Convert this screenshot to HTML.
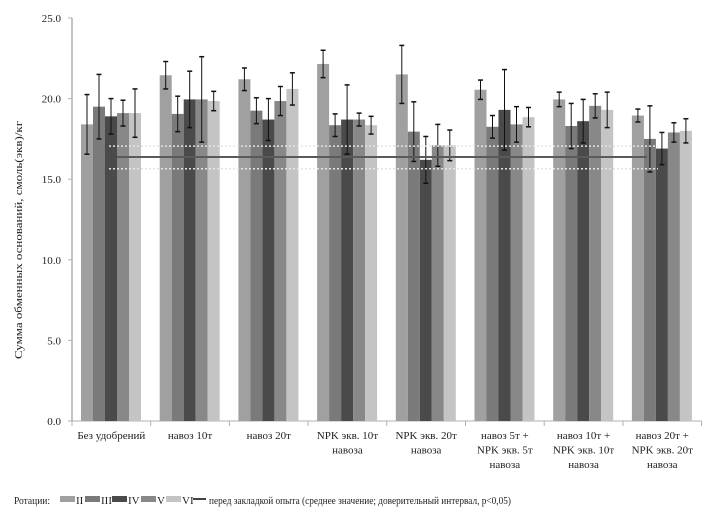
<!DOCTYPE html>
<html><head><meta charset="utf-8"><style>
body{margin:0;background:#fff}
svg{font-family:"Liberation Serif",serif;font-size:11px}
</style></head><body>
<svg id="chart" width="726" height="523">
<g id="axes"></g><g id="bars"></g><g id="ref"></g><g id="labels"></g><g id="legend"></g>
</svg>
<script>
const categories=[["Без удобрений"],["навоз 10т"],["навоз 20т"],["NPK экв. 10т","навоза"],["NPK экв. 20т","навоза"],["навоз 5т +","NPK экв. 5т","навоза"],["навоз 10т +","NPK экв. 10т","навоза"],["навоз 20т +","NPK экв. 20т","навоза"]];
const seriesNames=["II","III","IV","V","VI"];
const rotII=[18.4,21.45,21.2,22.15,21.5,20.55,19.95,18.95];
const rotIII=[19.5,19.05,19.25,18.35,17.95,18.25,18.3,17.5];
const rotIV=[18.9,19.95,18.7,18.7,16.2,19.3,18.6,16.9];
const rotV=[19.1,19.95,19.85,18.7,17.1,18.4,19.55,17.9];
const rotVI=[19.1,19.85,20.6,18.35,17.1,18.85,19.3,18.0];
const errII=[1.85,0.85,0.7,0.85,1.8,0.6,0.45,0.4];
const errIII=[2.0,1.1,0.8,0.7,1.85,0.7,1.4,2.05];
const errIV=[1.1,1.75,1.3,2.15,1.45,2.5,1.35,1.0];
const errV=[0.8,2.65,0.9,0.4,1.3,1.1,0.75,0.6];
const errVI=[1.5,0.6,1.0,0.55,0.95,0.6,1.1,0.75];
const refMean=16.38, refLow=15.65, refHigh=17.05;
const yTicks=[0,5,10,15,20,25];
const yTickLabels=["0.0","5.0","10.0","15.0","20.0","25.0"];

const NS="http://www.w3.org/2000/svg";
const colors=["#a0a0a0","#7a7a7a","#4a4a4a","#888888","#c4c4c4"];
const series=[rotII,rotIII,rotIV,rotV,rotVI];
const errs=[errII,errIII,errIV,errV,errVI];
const x0=72,pitch=78.7,barW=12,barOff=9,yBase=421,yTop=18,yMax=25;
const y=v=>yBase-(v/yMax)*(yBase-yTop);
const gx=i=>x0+i*pitch;
function el(t,a,p){const e=document.createElementNS(NS,t);for(const k in a)e.setAttribute(k,a[k]);document.getElementById(p).appendChild(e);return e;}

let e=el("line",{x1:x0,y1:yTop,x2:x0,y2:yBase,stroke:"#b0b0b0","stroke-width":1.5},"axes");


e=el("line",{x1:x0,y1:yBase,x2:gx(categories.length),y2:yBase,stroke:"#b0b0b0","stroke-width":1},"axes");


yTicks.forEach((t,i)=>{
 el("line",{x1:x0-4,y1:y(t),x2:x0,y2:y(t),stroke:"#b0b0b0"},"axes");
 const tx=el("text",{x:x0-11,y:y(t)+4,"text-anchor":"end",fill:"#222"},"axes");
 tx.textContent=yTickLabels[i];
 
 
});
for(let i=0;i<=categories.length;i++) el("line",{x1:gx(i),y1:yBase,x2:gx(i),y2:yBase+5,stroke:"#b0b0b0"},"axes");
e=el("text",{transform:"translate(22,240) rotate(-90)","text-anchor":"middle",fill:"#222",textLength:238,lengthAdjust:"spacingAndGlyphs"},"axes");
e.textContent="Сумма обменных оснований, смоль(экв)/кг";



categories.forEach((c,i)=>{
 series.forEach((s,j)=>{
  const bx=gx(i)+barOff+j*barW;
  const r=el("rect",{x:bx,y:y(s[i]),width:barW,height:yBase-y(s[i]),fill:colors[j]},"bars");
  
  
  const cx=bx+barW/2,hi=y(s[i]+errs[j][i]),lo=y(s[i]-errs[j][i]);
  el("line",{x1:cx,y1:hi,x2:cx,y2:lo,stroke:"#111","stroke-width":1},"bars");
  el("line",{x1:cx-2.5,y1:hi,x2:cx+2.5,y2:hi,stroke:"#111","stroke-width":1.5},"bars");
  el("line",{x1:cx-2.5,y1:lo,x2:cx+2.5,y2:lo,stroke:"#111","stroke-width":1.5},"bars");
 });
 c.forEach((ln,k)=>{
  const t=el("text",{x:gx(i)+pitch/2,y:439+k*14.5,"text-anchor":"middle",fill:"#222"},"labels");
  t.textContent=ln;
  
  
 });
});
el("line",{x1:109,y1:y(refHigh),x2:658,y2:y(refHigh),stroke:"#e4e4e4","stroke-width":1.5,"stroke-dasharray":"2,2"},"ref");
el("line",{x1:109,y1:y(refLow),x2:658,y2:y(refLow),stroke:"#e4e4e4","stroke-width":1.5,"stroke-dasharray":"2,2"},"ref");
e=el("line",{x1:117,y1:y(refMean),x2:647,y2:y(refMean),stroke:"#5a5a5a","stroke-width":2},"ref");



e=el("text",{x:14,y:504,fill:"#222",textLength:36,lengthAdjust:"spacingAndGlyphs"},"legend");e.textContent="Ротации:";


const lx=[60,85,112,141,166];
seriesNames.forEach((n,j)=>{
 const r=el("rect",{x:lx[j],y:496,width:15,height:6,fill:colors[j]},"legend");
 
 
 const t=el("text",{x:lx[j]+16,y:504,fill:"#222"},"legend");t.textContent=n;
 
 
});
el("line",{x1:193,y1:499,x2:206,y2:499,stroke:"#444","stroke-width":2},"legend");
e=el("text",{x:209,y:504,fill:"#222",textLength:302,lengthAdjust:"spacingAndGlyphs"},"legend");
e.textContent="перед закладкой опыта (среднее значение; доверительный интервал, p<0,05)";


</script>
</body></html>
